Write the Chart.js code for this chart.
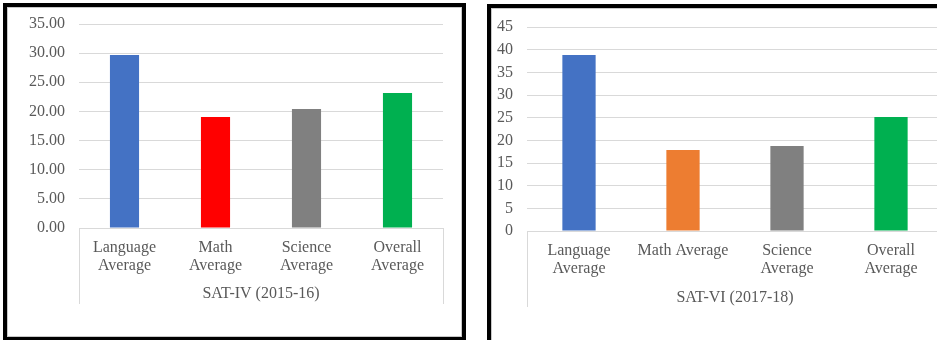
<!DOCTYPE html>
<html>
<head>
<meta charset="utf-8">
<script src="https://cdn.jsdelivr.net/npm/chart.js@4/dist/chart.umd.min.js"></script>
<style>
  html, body { margin: 0; padding: 0; background: #fff; width: 937px; height: 340px; overflow: hidden; }
  .box { position: absolute; border: 4px solid #000; box-shadow: inset 0 0 0 1px #c8c8c8; background: #fff; }
  #box1 { left: 3px; top: 3px; width: 455px; height: 330px; }
  #box2 { left: 487px; top: 4px; width: 480px; height: 340px; }
  canvas { position: absolute; left: 0; top: 0; }
</style>
</head>
<body>
<div class="box" id="box1"><canvas id="c1" width="455" height="329"></canvas></div>
<div class="box" id="box2"><canvas id="c2" width="470" height="332"></canvas></div>
<script>
// ---- data ----
const categories1 = [["Language", "Average"], ["Math", "Average"], ["Science", "Average"], ["Overall", "Average"]];
const values1 = [29.68, 19.04, 20.40, 23.16];
const colors1 = ["#4472C4", "#FF0000", "#808080", "#00B050"];
const groupTitle1 = "SAT-IV (2015-16)";
const yMax1 = 35;

const categories2 = [["Language", "Average"], "Math Average", ["Science", "Average"], ["Overall", "Average"]];
const values2 = [38.8, 17.87, 18.75, 25.15];
const colors2 = ["#4472C4", "#ED7D31", "#808080", "#00B050"];
const groupTitle2 = "SAT-VI (2017-18)";
const yMax2 = 45;

const TEXT = "#595959";
const GRID = "#d9d9d9";
const FONT = "'Liberation Serif', 'Times New Roman', serif";
const BOX_DEPTH = 76;

// draws the outer dividers of the (single-group) multi-level category axis
const groupBox = {
  id: "groupBox",
  afterDraw(chart) {
    const x = chart.scales.x;
    const ctx = chart.ctx;
    ctx.save();
    ctx.strokeStyle = GRID;
    ctx.lineWidth = 1;
    ctx.beginPath();
    [x.left, x.right].forEach((px) => {
      const p = Math.round(px) + 0.5;
      ctx.moveTo(p, x.top);
      ctx.lineTo(p, x.top + BOX_DEPTH);
    });
    ctx.stroke();
    ctx.restore();
  }
};

function makeChart(id, cats, vals, cols, title, yMax, opts) {
  return new Chart(document.getElementById(id), {
    type: "bar",
    data: {
      labels: cats,
      datasets: [{ data: vals, backgroundColor: cols, borderWidth: 0, barPercentage: 0.32, categoryPercentage: 1 }]
    },
    options: {
      responsive: false,
      animation: false,
      devicePixelRatio: 1,
      layout: { padding: { left: 0, right: opts.padRight, top: opts.padTop, bottom: opts.padBottom } },
      plugins: { legend: { display: false }, tooltip: { enabled: false } },
      scales: {
        x: {
          afterFit: (s) => { s.height = opts.xHeight; },
          border: { display: true, color: GRID, width: 1 },
          grid: { display: false, drawTicks: false },
          ticks: {
            color: TEXT,
            padding: 11,
            maxRotation: 0,
            autoSkip: false,
            font: { family: FONT, size: 16, lineHeight: 1.1 }
          },
          title: {
            display: true,
            text: title,
            color: TEXT,
            padding: { top: 10, bottom: 0 },
            font: { family: FONT, size: 16, lineHeight: 1.2 }
          }
        },
        y: {
          min: 0,
          max: yMax,
          afterFit: (s) => { s.width = opts.yWidth; s.paddingTop = 0; s.paddingBottom = 0; },
          border: { display: false },
          grid: { color: GRID, lineWidth: 1, drawTicks: false },
          ticks: {
            stepSize: 5,
            autoSkip: false,
            color: TEXT,
            padding: 14,
            font: { family: FONT, size: 16 },
            callback: opts.fmt
          }
        }
      }
    },
    plugins: [groupBox]
  });
}

makeChart("c1", categories1, values1, colors1, groupTitle1, yMax1, {
  padRight: 19, padTop: 17, padBottom: 33, xHeight: 75, yWidth: 72,
  fmt: (v) => Number(v).toFixed(2)
});
makeChart("c2", categories2, values2, colors2, groupTitle2, yMax2, {
  padRight: 18, padTop: 19, padBottom: 33, xHeight: 76, yWidth: 36,
  fmt: (v) => String(v)
});
</script>
</body>
</html>
